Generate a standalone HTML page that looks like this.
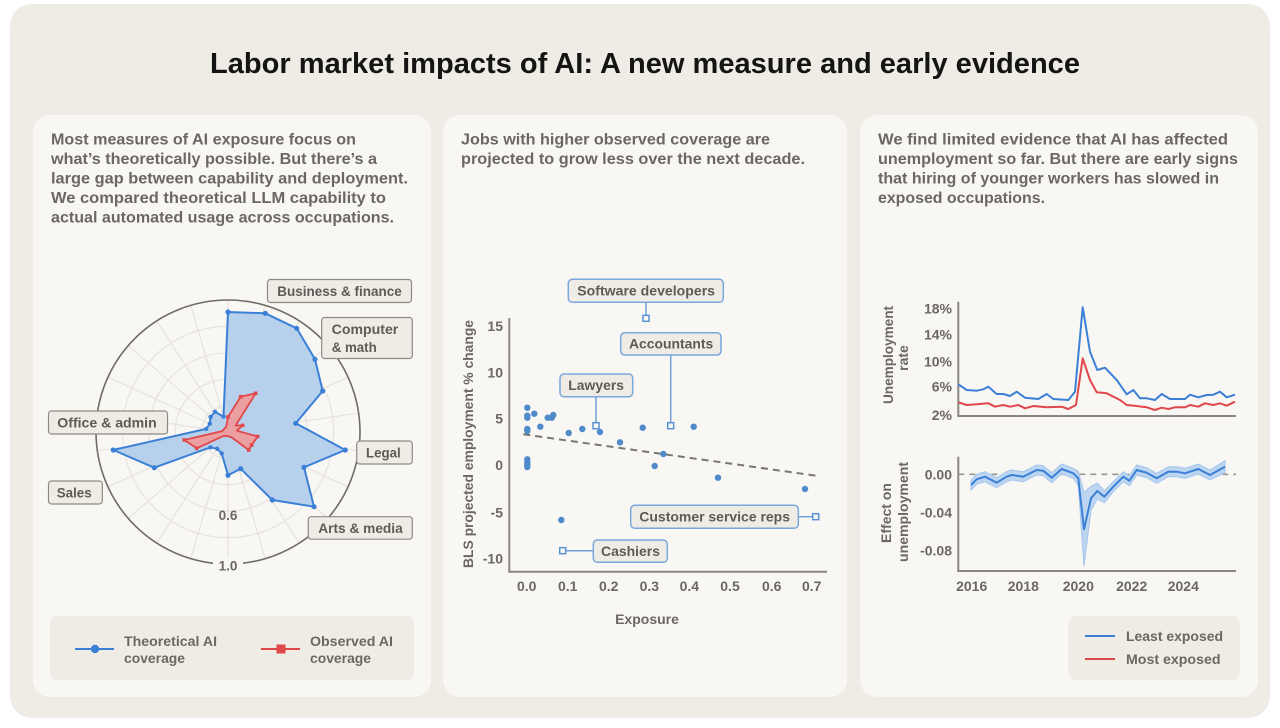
<!DOCTYPE html>
<html><head><meta charset="utf-8"><style>
html,body{margin:0;padding:0;background:#fff;width:1280px;height:728px;overflow:hidden}
svg{display:block}
text{font-family:"Liberation Sans",sans-serif}
</style></head><body>
<svg width="1280" height="728" viewBox="0 0 1280 728" xmlns="http://www.w3.org/2000/svg">
<rect x="10" y="4" width="1260" height="714" rx="22" fill="#efece6"/>
<text x="210" y="73" font-size="28.5" font-weight="bold" fill="#141413" textLength="870" lengthAdjust="spacingAndGlyphs">Labor market impacts of AI: A new measure and early evidence</text>

<!-- panels -->
<rect x="33" y="115" width="398" height="582" rx="17" fill="#f8f7f4"/>
<rect x="443" y="115" width="404" height="582" rx="17" fill="#f8f7f4"/>
<rect x="860" y="115" width="398" height="582" rx="17" fill="#f8f7f4"/>

<g font-size="15.3" font-weight="bold" fill="#6b6863">
<text x="51" y="144.5" textLength="305" lengthAdjust="spacingAndGlyphs">Most measures of AI exposure focus on</text>
<text x="51" y="164" textLength="326" lengthAdjust="spacingAndGlyphs">what’s theoretically possible. But there’s a</text>
<text x="51" y="183.5" textLength="357" lengthAdjust="spacingAndGlyphs">large gap between capability and deployment.</text>
<text x="51" y="203" textLength="335" lengthAdjust="spacingAndGlyphs">We compared theoretical LLM capability to</text>
<text x="51" y="222.5" textLength="343" lengthAdjust="spacingAndGlyphs">actual automated usage across occupations.</text>

<text x="461" y="144.5" textLength="309" lengthAdjust="spacingAndGlyphs">Jobs with higher observed coverage are</text>
<text x="461" y="164" textLength="344" lengthAdjust="spacingAndGlyphs">projected to grow less over the next decade.</text>

<text x="878" y="144.5" textLength="350" lengthAdjust="spacingAndGlyphs">We find limited evidence that AI has affected</text>
<text x="878" y="164" textLength="360" lengthAdjust="spacingAndGlyphs">unemployment so far. But there are early signs</text>
<text x="878" y="183.5" textLength="341" lengthAdjust="spacingAndGlyphs">that hiring of younger workers has slowed in</text>
<text x="878" y="203" textLength="167" lengthAdjust="spacingAndGlyphs">exposed occupations.</text>
</g>

<!-- ============ RADAR ============ -->
<g fill="none" stroke="#e6e3dd" stroke-width="1.2">
<circle cx="228" cy="432" r="26.4"/>
<circle cx="228" cy="432" r="52.8"/>
<circle cx="228" cy="432" r="79.2"/>
<circle cx="228" cy="432" r="105.6"/>
<line x1="228" y1="432" x2="228" y2="300"/>
<line x1="228" y1="432" x2="265.2" y2="305.3"/>
<line x1="228" y1="432" x2="299.4" y2="320.9"/>
<line x1="228" y1="432" x2="327.8" y2="345.6"/>
<line x1="228" y1="432" x2="348.1" y2="377.2"/>
<line x1="228" y1="432" x2="358.7" y2="413.2"/>
<line x1="228" y1="432" x2="358.7" y2="450.8"/>
<line x1="228" y1="432" x2="348.1" y2="486.8"/>
<line x1="228" y1="432" x2="327.8" y2="518.4"/>
<line x1="228" y1="432" x2="299.4" y2="543.1"/>
<line x1="228" y1="432" x2="265.2" y2="558.7"/>
<line x1="228" y1="432" x2="228" y2="564"/>
<line x1="228" y1="432" x2="190.8" y2="558.7"/>
<line x1="228" y1="432" x2="156.6" y2="543.1"/>
<line x1="228" y1="432" x2="128.2" y2="518.4"/>
<line x1="228" y1="432" x2="107.9" y2="486.8"/>
<line x1="228" y1="432" x2="97.3" y2="450.8"/>
<line x1="228" y1="432" x2="97.3" y2="413.2"/>
<line x1="228" y1="432" x2="107.9" y2="377.2"/>
<line x1="228" y1="432" x2="128.2" y2="345.6"/>
<line x1="228" y1="432" x2="156.6" y2="320.9"/>
<line x1="228" y1="432" x2="190.8" y2="305.3"/>
</g>
<circle cx="228" cy="432" r="132" fill="none" stroke="#6f6c67" stroke-width="1.6"/>
<rect x="213" y="557" width="30" height="16" fill="#f8f7f4"/>
<text x="228" y="570.5" font-size="13.5" font-weight="bold" fill="#6b6863" text-anchor="middle">1.0</text>
<text x="228" y="520" font-size="13.5" font-weight="bold" fill="#6b6863" text-anchor="middle">0.6</text>

<polygon points="228,312 265.3,313.3 296.7,328.3 315,359.3 322.7,391 295.7,423.3 345.3,450 304,467.3 314,506.7 272.3,500 240.7,468.7 228,475.3 221.7,453.4 217.2,448.8 210.4,447.3 154.3,467.7 113.3,450 206.2,428.9 209.8,423.7 210.6,416.9 215,411.8 223.5,416.6" fill="#b3cfec" fill-opacity="0.95" stroke="#3b80d6" stroke-width="2" stroke-linejoin="round"/>
<g fill="#3b80d6">
<circle cx="228" cy="312" r="2.6"/><circle cx="265.3" cy="313.3" r="2.6"/><circle cx="296.7" cy="328.3" r="2.6"/><circle cx="315" cy="359.3" r="2.6"/><circle cx="322.7" cy="391" r="2.6"/><circle cx="295.7" cy="423.3" r="2.6"/><circle cx="345.3" cy="450" r="2.6"/><circle cx="304" cy="467.3" r="2.6"/><circle cx="314" cy="506.7" r="2.6"/><circle cx="272.3" cy="500" r="2.6"/><circle cx="240.7" cy="468.7" r="2.6"/><circle cx="228" cy="475.3" r="2.6"/><circle cx="221.7" cy="453.4" r="2.2"/><circle cx="217.2" cy="448.8" r="2.2"/><circle cx="210.4" cy="447.3" r="2.2"/><circle cx="154.3" cy="467.7" r="2.6"/><circle cx="113.3" cy="450" r="2.6"/><circle cx="206.2" cy="428.9" r="2.2"/><circle cx="209.8" cy="423.7" r="2.2"/><circle cx="210.6" cy="416.9" r="2.2"/><circle cx="215" cy="411.8" r="2.2"/><circle cx="223.5" cy="416.6" r="2.2"/>
</g>
<polygon points="228,417 240.7,396.7 255.7,393.3 235.6,425.5 242.6,425.4 236.9,430.7 257.7,436.5 251.7,445 248.7,450 231.2,437 229.4,436.8 228,436 226.9,435.8 225.3,436.2 223.5,435.9 196.7,448.3 184.3,440 222.1,431.1 223.5,429.9 224.2,428.7 225.3,427.8 226.3,426.2" fill="#ee9c9c" fill-opacity="0.95" stroke="#e0474a" stroke-width="1.8" stroke-linejoin="round"/>
<g fill="#e0474a">
<rect x="238.9" y="394.9" width="3.6" height="3.6"/><rect x="253.9" y="391.5" width="3.6" height="3.6"/><rect x="255.9" y="434.7" width="3.6" height="3.6"/><rect x="249.9" y="443.2" width="3.6" height="3.6"/><rect x="246.9" y="448.2" width="3.6" height="3.6"/><rect x="194.9" y="446.5" width="3.6" height="3.6"/><rect x="182.5" y="438.2" width="3.6" height="3.6"/><rect x="240.8" y="423.6" width="3.6" height="3.6"/><rect x="226.2" y="415.2" width="3.6" height="3.6"/>
</g>

<g font-size="14" font-weight="bold" fill="#5e5b56">
<rect x="267.5" y="279.5" width="144" height="23" rx="3" fill="#efece6" stroke="#8d8a85" stroke-width="1.2"/>
<text x="277.3" y="296" textLength="124.4" lengthAdjust="spacingAndGlyphs">Business &amp; finance</text>
<rect x="321.7" y="317.5" width="90.6" height="41" rx="3" fill="#efece6" stroke="#8d8a85" stroke-width="1.2"/>
<text x="331.7" y="334" textLength="66.6" lengthAdjust="spacingAndGlyphs">Computer</text>
<text x="331.7" y="352" textLength="45" lengthAdjust="spacingAndGlyphs">&amp; math</text>
<rect x="48.5" y="411" width="119" height="23" rx="3" fill="#efece6" stroke="#8d8a85" stroke-width="1.2"/>
<text x="57.3" y="427.5" textLength="99.4" lengthAdjust="spacingAndGlyphs">Office &amp; admin</text>
<rect x="356.7" y="441" width="55.6" height="23" rx="3" fill="#efece6" stroke="#8d8a85" stroke-width="1.2"/>
<text x="366" y="457.5" textLength="34.7" lengthAdjust="spacingAndGlyphs">Legal</text>
<rect x="48.5" y="481" width="53.8" height="23" rx="3" fill="#efece6" stroke="#8d8a85" stroke-width="1.2"/>
<text x="56.7" y="497.5" textLength="35" lengthAdjust="spacingAndGlyphs">Sales</text>
<rect x="308.3" y="516.7" width="104" height="22.5" rx="3" fill="#efece6" stroke="#8d8a85" stroke-width="1.2"/>
<text x="318.3" y="533" textLength="84.4" lengthAdjust="spacingAndGlyphs">Arts &amp; media</text>
</g>

<!-- legend 1 -->
<rect x="50" y="616" width="364" height="64" rx="8" fill="#efece6"/>
<line x1="75" y1="649" x2="114" y2="649" stroke="#3b80d6" stroke-width="2"/>
<circle cx="95" cy="649" r="4.2" fill="#3b80d6"/>
<line x1="261" y1="649" x2="300" y2="649" stroke="#e0474a" stroke-width="2"/>
<rect x="276.5" y="644.5" width="9" height="9" fill="#e0474a"/>
<g font-size="14" font-weight="bold" fill="#6b6863">
<text x="124" y="646" textLength="93" lengthAdjust="spacingAndGlyphs">Theoretical AI</text>
<text x="124" y="663" textLength="61" lengthAdjust="spacingAndGlyphs">coverage</text>
<text x="310" y="646" textLength="83" lengthAdjust="spacingAndGlyphs">Observed AI</text>
<text x="310" y="663" textLength="61" lengthAdjust="spacingAndGlyphs">coverage</text>
</g>

<!-- ============ SCATTER ============ -->
<line x1="509.3" y1="318" x2="509.3" y2="572" stroke="#8a8782" stroke-width="2"/>
<line x1="508.3" y1="571.7" x2="827" y2="571.7" stroke="#8a8782" stroke-width="2"/>
<g font-size="14" font-weight="bold" fill="#6b6863" text-anchor="end">
<text x="503" y="331">15</text>
<text x="503" y="377.7">10</text>
<text x="503" y="423.3">5</text>
<text x="503" y="470">0</text>
<text x="503" y="517.7">-5</text>
<text x="503" y="563.3">-10</text>
</g>
<g font-size="14" font-weight="bold" fill="#6b6863" text-anchor="middle">
<text x="526.7" y="591">0.0</text>
<text x="567.7" y="591">0.1</text>
<text x="608.7" y="591">0.2</text>
<text x="649.3" y="591">0.3</text>
<text x="689.3" y="591">0.4</text>
<text x="730" y="591">0.5</text>
<text x="771.7" y="591">0.6</text>
<text x="811.7" y="591">0.7</text>
<text x="647" y="624">Exposure</text>
<text transform="translate(473,444) rotate(-90)" x="0" y="0" textLength="248" lengthAdjust="spacingAndGlyphs">BLS projected employment % change</text>
</g>
<line x1="523.3" y1="434.3" x2="816" y2="475.7" stroke="#7a7772" stroke-width="2" stroke-dasharray="7,5"/>
<g fill="#4f8acb">
<circle cx="527.3" cy="407.7" r="3.2"/><circle cx="527.3" cy="415.7" r="3.2"/><circle cx="527.3" cy="417.7" r="3.2"/><circle cx="534.3" cy="413.7" r="3.2"/><circle cx="527.3" cy="429" r="3.2"/><circle cx="527.3" cy="431" r="3.2"/><circle cx="540.3" cy="426.7" r="3.2"/><circle cx="547.7" cy="417.7" r="3.2"/><circle cx="551.7" cy="417.7" r="3.2"/><circle cx="553.3" cy="415" r="3.2"/><circle cx="527.3" cy="459.3" r="3.2"/><circle cx="527.3" cy="462.3" r="3.2"/><circle cx="527.3" cy="465" r="3.2"/><circle cx="527.3" cy="467" r="3.2"/><circle cx="568.7" cy="433" r="3.2"/><circle cx="582.3" cy="429" r="3.2"/><circle cx="600" cy="432" r="3.2"/><circle cx="620" cy="442.3" r="3.2"/><circle cx="642.7" cy="427.7" r="3.2"/><circle cx="654.7" cy="466" r="3.2"/><circle cx="663.3" cy="454" r="3.2"/><circle cx="693.7" cy="426.7" r="3.2"/><circle cx="718" cy="477.7" r="3.2"/><circle cx="805" cy="489" r="3.2"/><circle cx="561.3" cy="520" r="3.2"/>
</g>
<g stroke="#6fa0da" stroke-width="1.5" fill="none">
<line x1="646" y1="302.3" x2="646" y2="315"/>
<line x1="670.7" y1="355" x2="670.7" y2="422.5"/>
<line x1="596" y1="396.7" x2="596" y2="422.5"/>
<line x1="798.3" y1="516.7" x2="812.5" y2="516.7"/>
<line x1="566" y1="550.7" x2="593.3" y2="550.7"/>
</g>
<g fill="#f8f7f4" stroke="#5b92d4" stroke-width="1.5">
<rect x="643" y="315.3" width="6" height="6"/>
<rect x="667.7" y="422.7" width="6" height="6"/>
<rect x="593" y="422.7" width="6" height="6"/>
<rect x="812.7" y="513.7" width="6" height="6"/>
<rect x="559.7" y="547.7" width="6" height="6"/>
</g>
<g fill="#efece6" stroke="#7aa7dc" stroke-width="1.5">
<rect x="568.3" y="279.3" width="155" height="23" rx="4"/>
<rect x="620.7" y="332.7" width="100.3" height="22.3" rx="4"/>
<rect x="560" y="374" width="72.7" height="22.7" rx="4"/>
<rect x="630.7" y="505.3" width="167.6" height="23" rx="4"/>
<rect x="593.3" y="540" width="74" height="22.3" rx="4"/>
</g>
<g font-size="14" font-weight="bold" fill="#5e5b56">
<text x="577.3" y="295.5" textLength="137.7" lengthAdjust="spacingAndGlyphs">Software developers</text>
<text x="629" y="348.5" textLength="84.3" lengthAdjust="spacingAndGlyphs">Accountants</text>
<text x="568.3" y="390" textLength="55.7" lengthAdjust="spacingAndGlyphs">Lawyers</text>
<text x="639.3" y="521.5" textLength="150.7" lengthAdjust="spacingAndGlyphs">Customer service reps</text>
<text x="601" y="556" textLength="59" lengthAdjust="spacingAndGlyphs">Cashiers</text>
</g>

<!-- ============ TIME SERIES ============ -->
<line x1="958.3" y1="301.7" x2="958.3" y2="417" stroke="#8a8782" stroke-width="2"/>
<line x1="957.3" y1="416" x2="1236" y2="416" stroke="#8a8782" stroke-width="2"/>
<line x1="958.3" y1="456.7" x2="958.3" y2="572" stroke="#8a8782" stroke-width="2"/>
<line x1="957.3" y1="571" x2="1236" y2="571" stroke="#8a8782" stroke-width="2"/>
<g font-size="14" font-weight="bold" fill="#6b6863" text-anchor="end">
<text x="952" y="313.3">18%</text>
<text x="952" y="339.3">14%</text>
<text x="952" y="366.7">10%</text>
<text x="952" y="391.7">6%</text>
<text x="952" y="420">2%</text>
<text x="952" y="479.3">0.00</text>
<text x="952" y="517.7">-0.04</text>
<text x="952" y="555.7">-0.08</text>
</g>
<g font-size="14" font-weight="bold" fill="#6b6863" text-anchor="middle">
<text x="971.7" y="591">2016</text>
<text x="1023.3" y="591">2018</text>
<text x="1078.3" y="591">2020</text>
<text x="1131.7" y="591">2022</text>
<text x="1183.3" y="591">2024</text>
<text transform="translate(893,355) rotate(-90)" textLength="98" lengthAdjust="spacingAndGlyphs">Unemployment</text>
<text transform="translate(908,358) rotate(-90)">rate</text>
<text transform="translate(891,513) rotate(-90)">Effect on</text>
<text transform="translate(908,512) rotate(-90)" textLength="100" lengthAdjust="spacingAndGlyphs">unemployment</text>
</g>
<polyline fill="none" stroke="#3b80d6" stroke-width="2" stroke-linejoin="round" points="958.3,384.3 966.7,390 976.7,390.7 983.3,389.3 988.3,386.7 996.7,394 1003.3,394 1010,396 1016.7,391.7 1025,397.7 1038.3,399 1046.7,394 1053.3,399 1068.3,400 1075,391.7 1082.7,307.3 1090,351.7 1097.3,370 1105,367.7 1116.7,380 1126.7,394.3 1133.3,390 1140,398.3 1146.7,398.3 1155,400 1161.7,394 1170,399 1185,399 1190,394.7 1198.3,397.3 1206.7,395 1213.3,394.7 1220,391.7 1226.7,397.3 1235,394.7"/>
<polyline fill="none" stroke="#e0474a" stroke-width="2" stroke-linejoin="round" points="958.3,402.3 966.7,405 976.7,404.3 988.3,403.3 995,406.7 1003.3,405 1010,406.7 1018.3,405 1025,408.3 1033.3,406 1046.7,407.3 1061.7,406.7 1068.3,409 1076,405 1082.7,358.3 1090,380 1096.7,392.3 1106.7,393.3 1120,400 1126.7,405 1136.7,406 1146.7,407.3 1155,410 1161.7,407.7 1168.3,409 1175,407.3 1185,407.3 1190,405 1198.3,406.7 1205,403.3 1213.3,405 1220,403.3 1226.7,405.7 1235,401.7"/>

<line x1="958.3" y1="474.3" x2="1236" y2="474.3" stroke="#9a9792" stroke-width="1.6" stroke-dasharray="6,5"/>
<polygon fill="#bcd6f1" stroke="#a6c6ec" stroke-width="1" points="971,480 976.7,474.3 985,471.7 996.7,477.7 1006.7,471.7 1011.7,470 1023.3,471.7 1036.7,465 1043.3,465.7 1051.7,472.7 1061.7,464 1073.3,468.3 1078.3,471.3 1084,492.3 1091,486.3 1097.3,483 1104.3,490.7 1113.3,481.7 1123.3,471.7 1129.3,475.7 1136.7,465 1146.7,467.7 1156.7,473.3 1168.3,466.7 1176.7,466.7 1185,468.3 1198.3,464 1210,470 1225,460.7 1225,472.7 1210,480 1198.3,474 1185,478.3 1176.7,476.7 1168.3,476.7 1156.7,483.3 1146.7,477.7 1136.7,475 1129.3,485.7 1123.3,481.7 1113.3,491.7 1104.3,502.7 1097.3,499 1091,510.3 1084,566.3 1078.3,485.3 1073.3,478.3 1061.7,474 1051.7,482.7 1043.3,475.7 1036.7,475 1023.3,481.7 1011.7,480 1006.7,481.7 996.7,487.7 985,481.7 976.7,484.3 971,490"/>
<polyline fill="none" stroke="#3b80d6" stroke-width="2" stroke-linejoin="round" points="971,485 976.7,479.3 985,476.7 996.7,482.7 1006.7,476.7 1011.7,475 1023.3,476.7 1036.7,470 1043.3,470.7 1051.7,477.7 1061.7,469 1073.3,473.3 1078.3,478.3 1084,529.3 1091,498.3 1097.3,491 1104.3,496.7 1113.3,486.7 1123.3,476.7 1129.3,480.7 1136.7,470 1146.7,472.7 1156.7,478.3 1168.3,471.7 1176.7,471.7 1185,473.3 1198.3,469 1210,475 1225,466.7"/>

<!-- legend 3 -->
<rect x="1068.3" y="616" width="171.7" height="64" rx="8" fill="#efece6"/>
<line x1="1085" y1="636" x2="1115" y2="636" stroke="#3b80d6" stroke-width="2"/>
<line x1="1085" y1="659" x2="1115" y2="659" stroke="#e0474a" stroke-width="2"/>
<g font-size="14" font-weight="bold" fill="#6b6863">
<text x="1126" y="641" textLength="97" lengthAdjust="spacingAndGlyphs">Least exposed</text>
<text x="1126" y="664" textLength="94.5" lengthAdjust="spacingAndGlyphs">Most exposed</text>
</g>
</svg>
</body></html>
